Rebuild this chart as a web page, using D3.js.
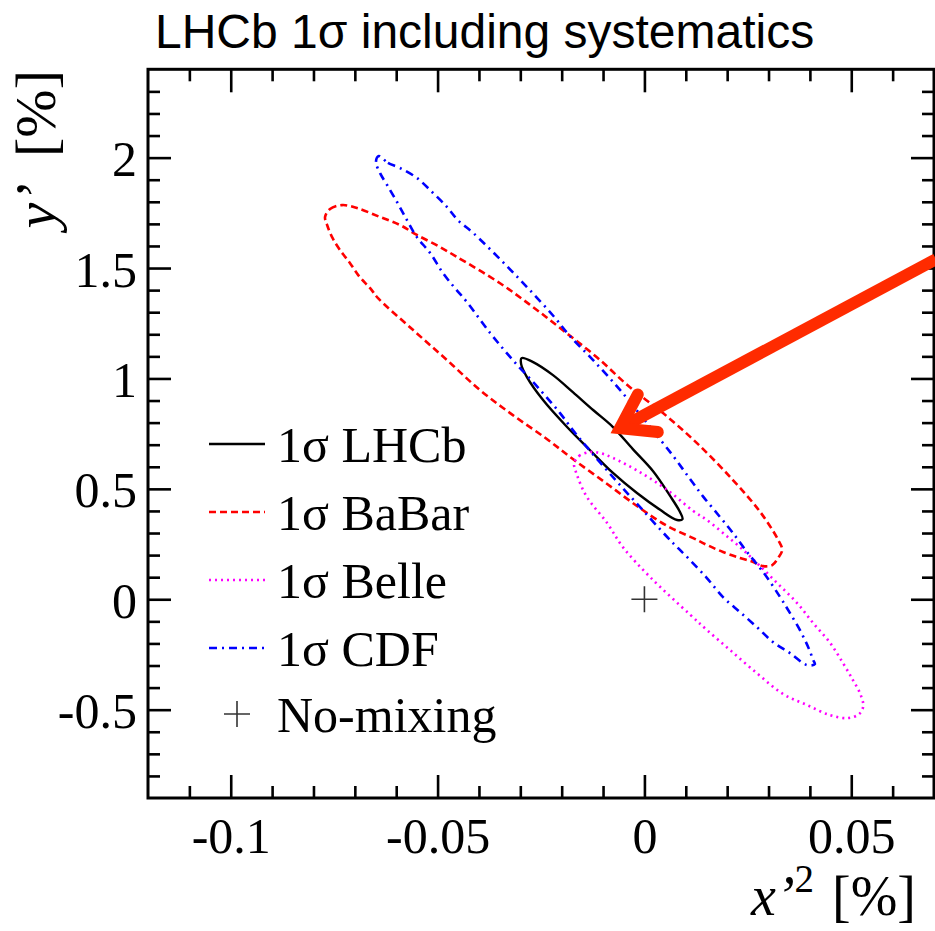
<!DOCTYPE html>
<html lang="en">
<head>
  <meta charset="UTF-8">
  <title>LHCb 1 sigma including systematics</title>
  <style>
    html, body {
      margin: 0;
      background: #fff;
      overflow: hidden;
    }
    svg {
      display: block;
      background: #fff;
    }
    .tick text {
      font-family: "Liberation Serif", "Times New Roman", serif;
      font-size: 50px;
      fill: #000;
    }
  </style>
</head>
<body>
  <svg width="935" height="931"></svg>
</body>
<script src="https://d3js.org/d3.v7.min.js"></script>
<script type="text/javascript">
  // contours, [x'^2 (%), y' (%)]
  const lhcbContour = [
    [-0.0297, 1.092], [-0.0269, 1.074], [-0.0221, 1.015], [-0.0173, 0.938],
    [-0.0124, 0.857], [-0.0076, 0.780], [-0.0028, 0.680], [0.0021, 0.580],
    [0.0062, 0.468], [0.0086, 0.395], [0.0092, 0.363], [0.0079, 0.359],
    [0.0038, 0.405], [-0.0018, 0.481], [-0.0076, 0.572], [-0.0132, 0.676],
    [-0.0187, 0.780], [-0.0245, 0.902], [-0.0284, 1.006], [-0.0298, 1.065]
  ]
  const babarContour = [
    [-0.0772, 1.731], [-0.0760, 1.767], [-0.0731, 1.785], [-0.0695, 1.772],
    [-0.0639, 1.731], [-0.0591, 1.695], [-0.0550, 1.650], [-0.0494, 1.595],
    [-0.0453, 1.550], [-0.0349, 1.431], [-0.0269, 1.323], [-0.0197, 1.218],
    [-0.0115, 1.096], [-0.0035, 0.960], [0.0045, 0.843], [0.0127, 0.707],
    [0.0214, 0.540], [0.0280, 0.395], [0.0323, 0.270],
    [0.0333, 0.223], [0.0323, 0.187], [0.0309, 0.155],
    [0.0287, 0.150], [0.0263, 0.169], [0.0231, 0.187], [0.0190, 0.214],
    [0.0151, 0.246], [0.0118, 0.277], [0.0055, 0.332], [-0.0011, 0.413],
    [-0.0090, 0.522], [-0.0173, 0.635], [-0.0236, 0.726], [-0.0318, 0.834],
    [-0.0398, 0.948], [-0.0477, 1.083], [-0.0559, 1.219], [-0.0644, 1.364],
    [-0.0663, 1.409], [-0.0688, 1.459], [-0.0712, 1.523], [-0.0736, 1.582],
    [-0.0755, 1.640], [-0.0767, 1.695]
  ]
  const belleContour = [
    [-0.0170, 0.617], [-0.0158, 0.649], [-0.0132, 0.667], [-0.0107, 0.662],
    [-0.0076, 0.640], [-0.0011, 0.576], [0.0055, 0.495], [0.0118, 0.400],
    [0.0151, 0.359], [0.0190, 0.300], [0.0231, 0.236], [0.0272, 0.164],
    [0.0321, 0.073], [0.0369, -0.017], [0.0408, -0.108], [0.0449, -0.198],
    [0.0480, -0.289], [0.0504, -0.366], [0.0521, -0.425], [0.0529, -0.484],
    [0.0519, -0.520], [0.0492, -0.538], [0.0449, -0.525], [0.0393, -0.479],
    [0.0335, -0.429], [0.0272, -0.335], [0.0207, -0.230], [0.0151, -0.139],
    [0.0110, -0.069], [0.0014, 0.100], [-0.0052, 0.236], [-0.0090, 0.345],
    [-0.0139, 0.463], [-0.0163, 0.563]
  ]
  const cdfContour = [
    [-0.0642, 2.007], [-0.0620, 1.976], [-0.0591, 1.953], [-0.0550, 1.908],
    [-0.0511, 1.840], [-0.0477, 1.776], [-0.0451, 1.717], [-0.0414, 1.659],
    [-0.0349, 1.540], [-0.0284, 1.414], [-0.0221, 1.285], [-0.0180, 1.192],
    [-0.0124, 1.083], [-0.0059, 0.948], [0.0006, 0.798], [0.0069, 0.650],
    [0.0110, 0.545], [0.0142, 0.465], [0.0183, 0.372], [0.0214, 0.300],
    [0.0248, 0.214], [0.0287, 0.123], [0.0328, 0.010], [0.0352, -0.063],
    [0.0376, -0.140], [0.0396, -0.217], [0.0408, -0.275], [0.0412, -0.294],
    [0.0393, -0.298], [0.0352, -0.244], [0.0311, -0.194], [0.0272, -0.126],
    [0.0231, -0.058], [0.0190, 0.010], [0.0151, 0.096], [0.0110, 0.178],
    [0.0079, 0.236], [0.0055, 0.282], [-0.0011, 0.418], [-0.0076, 0.553],
    [-0.0139, 0.689], [-0.0173, 0.766], [-0.0204, 0.843], [-0.0252, 0.948],
    [-0.0318, 1.083], [-0.0373, 1.206], [-0.0429, 1.346], [-0.0458, 1.409],
    [-0.0487, 1.477], [-0.0518, 1.568], [-0.0550, 1.640], [-0.0574, 1.717],
    [-0.0598, 1.799], [-0.0622, 1.876], [-0.0639, 1.930], [-0.0649, 1.980]
  ]
  const noMixing = [[0, 0]]
  const arrowFrom = [0.0705, 1.54]
  const arrowTo = [-0.0059, 0.775]

  const legendLabels = ['1σ LHCb', '1σ BaBar', '1σ Belle', '1σ CDF', 'No-mixing']
  const xMajorTicks = [-0.1, -0.05, 0, 0.05]
  const xMinorTicks = [-0.11, -0.09, -0.08, -0.07, -0.06, -0.04, -0.03, -0.02, -0.01, 0.01, 0.02, 0.03, 0.04, 0.06]
  const yMajorTicks = [-0.5, 0, 0.5, 1, 1.5, 2]
  const yMinorTicks = [-0.8, -0.7, -0.6, -0.4, -0.3, -0.2, -0.1, 0.1, 0.2, 0.3, 0.4, 0.6, 0.7, 0.8, 0.9,
                       1.1, 1.2, 1.3, 1.4, 1.6, 1.7, 1.8, 1.9, 2.1, 2.2, 2.3]
  const xTickLabels = ['-0.1', '-0.05', '0', '0.05']
  const yTickLabels = ['-0.5', '0', '0.5', '1', '1.5', '2']

  const series = [
    { name: legendLabels[0], data: lhcbContour, color: '#000', dash: null, width: 2.4 },
    { name: legendLabels[1], data: babarContour, color: '#ff0000', dash: '7,4', width: 2.6 },
    { name: legendLabels[2], data: belleContour, color: '#ff00ff', dash: '2,4', width: 2.6 },
    { name: legendLabels[3], data: cdfContour, color: '#0000ff', dash: '8,5,2,5', width: 2.6 }
  ]

  const svg = d3.select('svg')
  const plotL = 148, plotR = 934, plotT = 69.3, plotB = 798

  const x = d3.scaleLinear().domain([-0.12, 0.07]).range([plotL, plotR])
  const y = d3.scaleLinear().domain([-0.9, 2.4]).range([plotB, plotT])

  const serif = '"Liberation Serif", "Times New Roman", serif'

  // title
  svg.append('text')
    .attr('x', 155)
    .attr('y', 48)
    .attr('font-family', '"Liberation Sans", Arial, sans-serif')
    .attr('font-size', 48)
    .text('LHCb 1σ including systematics')

  // ticks: major + minor on all four sides, pointing inward
  function ticks(axis, scale, vals, size, fmt) {
    return axis(scale).tickValues(vals).tickSizeInner(size).tickSizeOuter(0)
      .tickFormat(fmt || (() => ''))
  }
  const xFmt = d => xTickLabels[xMajorTicks.indexOf(d)]
  const yFmt = d => yTickLabels[yMajorTicks.indexOf(d)]

  const gx = svg.append('g').attr('transform', `translate(0,${plotB})`)
  gx.call(ticks(d3.axisBottom, x, xMajorTicks, -23, xFmt).tickPadding(19))
  svg.append('g').attr('transform', `translate(0,${plotB})`)
    .call(ticks(d3.axisBottom, x, xMinorTicks, -12))
  svg.append('g').attr('transform', `translate(0,${plotT})`)
    .call(ticks(d3.axisTop, x, xMajorTicks, -23))
  svg.append('g').attr('transform', `translate(0,${plotT})`)
    .call(ticks(d3.axisTop, x, xMinorTicks, -12))

  const gy = svg.append('g').attr('transform', `translate(${plotL},0)`)
  gy.call(ticks(d3.axisLeft, y, yMajorTicks, -23, yFmt).tickPadding(11))
  svg.append('g').attr('transform', `translate(${plotL},0)`)
    .call(ticks(d3.axisLeft, y, yMinorTicks, -12))
  svg.append('g').attr('transform', `translate(${plotR},0)`)
    .call(ticks(d3.axisRight, y, yMajorTicks, -23))
  svg.append('g').attr('transform', `translate(${plotR},0)`)
    .call(ticks(d3.axisRight, y, yMinorTicks, -12))

  gy.selectAll('.tick text').attr('dy', '0.36em')
  svg.selectAll('.domain').remove()
  svg.selectAll('.tick line').attr('stroke', '#000').attr('stroke-width', 2.6)

  // frame
  svg.append('rect')
    .attr('x', plotL)
    .attr('y', plotT)
    .attr('width', plotR - plotL)
    .attr('height', plotB - plotT)
    .attr('fill', 'none')
    .attr('stroke', '#000')
    .attr('stroke-width', 3)

  // contours
  const line = d3.line()
    .x(d => x(d[0]))
    .y(d => y(d[1]))
    .curve(d3.curveCatmullRomClosed.alpha(0.5))

  svg.selectAll('path.contour')
    .data(series)
    .enter()
    .append('path')
    .attr('class', 'contour')
    .attr('d', d => line(d.data))
    .attr('fill', 'none')
    .attr('stroke', d => d.color)
    .attr('stroke-width', d => d.width)
    .attr('stroke-dasharray', d => d.dash)

  // no-mixing point
  svg.selectAll('path.nomix')
    .data(noMixing)
    .enter()
    .append('path')
    .attr('class', 'nomix')
    .attr('d', d => `M${x(d[0]) - 13},${y(d[1])}h26M${x(d[0])},${y(d[1]) - 13}v26`)
    .attr('stroke', '#333')
    .attr('stroke-width', 1.6)

  // annotation arrow
  const ax0 = x(arrowFrom[0]), ay0 = y(arrowFrom[1])
  const ax1 = x(arrowTo[0]), ay1 = y(arrowTo[1])
  const ang = Math.atan2(ay0 - ay1, ax0 - ax1)
  const barb = 38, spread = 34 * Math.PI / 180
  const arrow = svg.append('g')
    .attr('stroke', '#ff2b00')
    .attr('stroke-width', 12)
    .attr('stroke-linecap', 'round')
    .attr('fill', 'none')
  arrow.append('line')
    .attr('x1', ax0).attr('y1', ay0)
    .attr('x2', ax1 + 8 * Math.cos(ang)).attr('y2', ay1 + 8 * Math.sin(ang))
    .attr('stroke-linecap', 'butt')
  arrow.append('path')
    .attr('stroke-linejoin', 'miter')
    .attr('d', `M${ax1 + barb * Math.cos(ang - spread)},${ay1 + barb * Math.sin(ang - spread)}` +
      `L${ax1},${ay1}L${ax1 + barb * Math.cos(ang + spread)},${ay1 + barb * Math.sin(ang + spread)}`)

  // legend
  const rowY = [444, 512, 580, 648, 714]
  const legend = svg.append('g')
  series.forEach((s, i) => {
    legend.append('line')
      .attr('x1', 209).attr('x2', 265)
      .attr('y1', rowY[i]).attr('y2', rowY[i])
      .attr('stroke', s.color)
      .attr('stroke-width', s.width)
      .attr('stroke-dasharray', s.dash)
  })
  legend.append('path')
    .attr('d', `M${237 - 13},${rowY[4]}h26M237,${rowY[4] - 13}v26`)
    .attr('stroke', '#333')
    .attr('stroke-width', 1.6)
  legend.selectAll('text')
    .data(legendLabels)
    .enter()
    .append('text')
    .attr('x', 277)
    .attr('y', (d, i) => rowY[i] + 18)
    .attr('font-family', serif)
    .attr('font-size', 50)
    .text(d => d)

  // axis titles
  const xt = svg.append('text')
    .attr('x', 916)
    .attr('y', 915)
    .attr('text-anchor', 'end')
    .attr('font-family', serif)
    .attr('font-size', 56)
  xt.append('tspan').attr('font-style', 'italic').text('x’')
  xt.append('tspan').attr('font-size', 39).attr('dy', -23).text('2')
  xt.append('tspan').attr('dy', 23).attr('dx', 4).text(' [%]')

  const yt = svg.append('text')
    .attr('transform', 'translate(55,70) rotate(-90)')
    .attr('text-anchor', 'end')
    .attr('font-family', serif)
    .attr('font-size', 58)
  yt.append('tspan').attr('font-style', 'italic').text('y’')
  yt.append('tspan').attr('dx', 12).text(' [%]')
</script>
</html>
